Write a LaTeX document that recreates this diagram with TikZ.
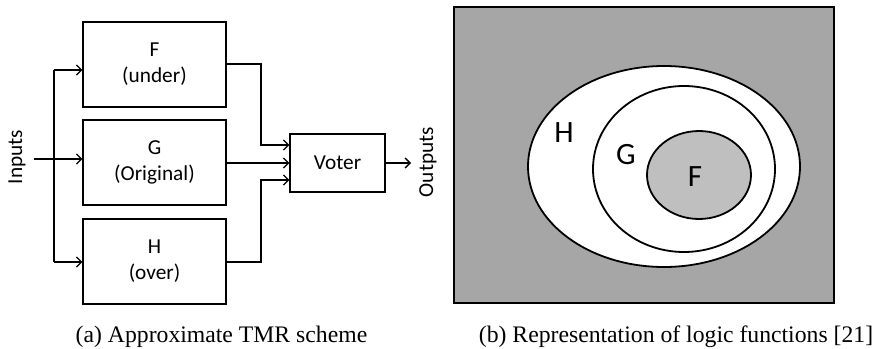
\documentclass[tikz,border=0pt]{standalone}
\usepackage{fontspec}
\setmainfont{Liberation Serif}
\newfontfamily\diagfont{Carlito}
\usetikzlibrary{arrows.meta}
\definecolor{panelgray}{HTML}{A6A6A6}
\definecolor{fgray}{HTML}{BFBFBF}
\tikzset{
  blockbox/.style={draw, line width=1.4pt, minimum width=143pt, minimum height=85pt,
    align=center, font=\diagfont\fontsize{21.3}{26}\selectfont, inner sep=0pt},
  voterbox/.style={draw, line width=1.4pt, minimum width=95pt, minimum height=58pt,
    font=\diagfont\fontsize{21.3}{26}\selectfont, inner sep=0pt},
  wire/.style={line width=1.25pt},
  arr/.style={wire, -{Straight Barb[length=5pt,width=10pt,line width=1.25pt]}},
  sidelabel/.style={rotate=90, font=\diagfont\fontsize{21.3}{26}\selectfont, inner sep=0pt},
  setlabel/.style={font=\diagfont\fontsize{31}{36}\selectfont, inner sep=0pt},
  setline/.style={line width=1.8pt},
  captext/.style={font=\fontsize{23.7}{28}\selectfont, inner sep=0pt, anchor=base}
}
\begin{document}
\begin{tikzpicture}[x=1pt, y=-1pt]
\useasboundingbox (0,0) rectangle (878,348);

% ---- (a) approximate TMR scheme ----
\node[blockbox] (F) at (154.5,64.5) {F\\(under)};
\node[blockbox] (G) at (154.5,162.5) {G\\(Original)};
\node[blockbox] (H) at (154.5,261.5) {H\\(over)};
\node[voterbox] (V) at (337.5,163) {Voter};

\node[sidelabel] (inlab) at (17,157) {Inputs};
\node[sidelabel] (outlab) at (428,162) {Outputs};

% input fan-out
\coordinate (in) at (34,159);
\coordinate (tt) at (54,70);
\coordinate (tb) at (54,262);
\draw[wire] (tt) -- (tb);
\draw[arr] (in) -- (G.west |- in);
\draw[arr] (tt) -- (F.west |- tt);
\draw[arr] (tb) -- (H.west |- tb);

% outputs to the voter
\coordinate (fo) at (226,64);
\coordinate (fv) at (261,145);
\coordinate (go) at (226,163);
\coordinate (ho) at (226,262);
\coordinate (hv) at (261,180);
\draw[arr] (F.east |- fo) -- (fv |- fo) -- (fv) -- (V.west |- fv);
\draw[arr] (G.east |- go) -- (V.west |- go);
\draw[arr] (H.east |- ho) -- (hv |- ho) -- (hv) -- (V.west |- hv);

\coordinate (vo) at (411,163);
\draw[arr] (V.east |- vo) -- (vo);

% ---- (b) nested logic functions ----
\filldraw[fill=panelgray, line width=1.8pt] (454,7) rectangle (834,303);
\filldraw[fill=white, setline] (664,166.5) ellipse [x radius=136, y radius=100.5];
\draw[setline] (684,169) ellipse [x radius=91, y radius=83];
\filldraw[fill=fgray, setline] (699,175) ellipse [x radius=52, y radius=44];
\node[setlabel] (hl) at (564,133) {H};
\node[setlabel] (gl) at (626,155) {G};
\node[setlabel] (fl) at (695,177) {F};

% ---- captions ----
\node[captext] (capa) at (221.5,342) {(a) Approximate TMR scheme};
\node[captext] (capb) at (676,342) {(b) Representation of logic functions [21]};
\end{tikzpicture}
\end{document}
